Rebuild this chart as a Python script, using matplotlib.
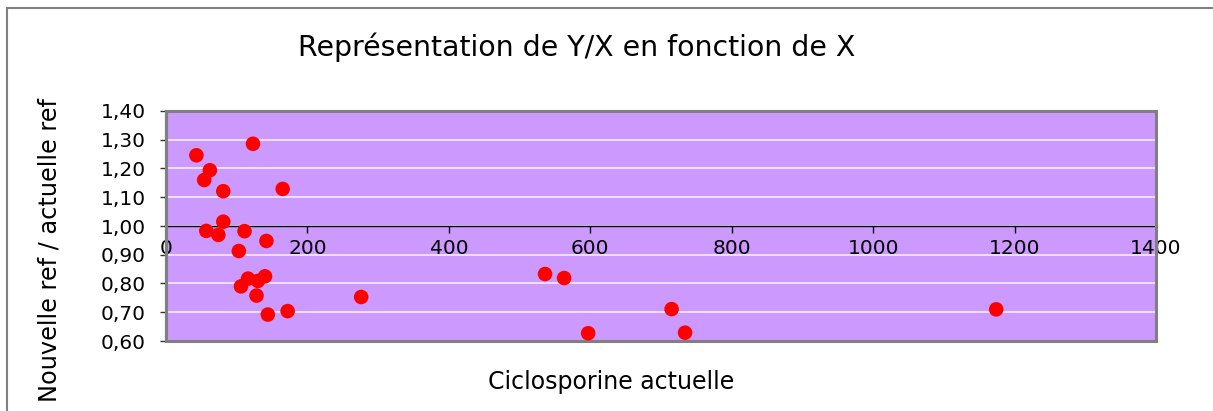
import matplotlib
matplotlib.use("Agg")
import matplotlib.pyplot as plt
from matplotlib.patches import Rectangle
from matplotlib.ticker import FuncFormatter, MultipleLocator

# Data
ciclo_actuelle = [43, 123, 62, 54, 81, 165, 81, 57, 74, 111, 142, 103,
                  116, 106, 130, 140, 128, 144, 172, 276,
                  536, 563, 597, 715, 734, 1174]
ratio = [1.246, 1.286, 1.194, 1.160, 1.121, 1.129, 1.015, 0.983, 0.969, 0.982, 0.948, 0.913,
         0.817, 0.790, 0.809, 0.825, 0.758, 0.692, 0.704, 0.753,
         0.833, 0.819, 0.627, 0.711, 0.629, 0.710]

title = "Représentation de Y/X en fonction de X"
xlabel = "Ciclosporine actuelle"
ylabel = "Nouvelle ref / actuelle ref"

W, H = 1213, 411
fig = plt.figure(figsize=(W / 100, H / 100), dpi=100)
plt.rcParams['font.family'] = ['DejaVu Sans']

# outer chart frame (cropped at right and bottom)
fig.patches.append(Rectangle((7 / W, -0.1), 1.2, (403 / H) + 0.1,
                             transform=fig.transFigure, fill=False,
                             ec='#808080', lw=1.5, zorder=0))

left, right, top, bottom = 166, 1156, 111, 341
ax = fig.add_axes([left / W, 1 - bottom / H, (right - left) / W, (bottom - top) / H])
ax.set_facecolor('#CC99FF')
ax.set_xlim(0, 1400)
ax.set_ylim(0.6, 1.4)

# gridlines
ax.yaxis.set_major_locator(MultipleLocator(0.1))
ax.xaxis.set_major_locator(MultipleLocator(200))
ax.grid(axis='y', color='#F0E6FF', lw=1.3, zorder=1)
ax.set_axisbelow(True)

for s in ['top', 'right']:
    ax.spines[s].set_visible(False)
ax.spines['left'].set_color('#555555')
ax.spines['left'].set_linewidth(1.5)
ax.spines['bottom'].set_position(('data', 1.0))
ax.spines['bottom'].set_color('black')
ax.spines['bottom'].set_linewidth(1.0)
ax.spines['bottom'].set_zorder(2)

ax.add_patch(Rectangle((0, 0), 1, 1, transform=ax.transAxes, fill=False,
                       ec='#808080', lw=2.2, clip_on=False, zorder=3))

ax.scatter(ciclo_actuelle, ratio, s=110, color='#FF0000', edgecolors='none',
           zorder=4, clip_on=False)

ax.yaxis.set_major_formatter(FuncFormatter(lambda v, p: f"{v:.2f}".replace('.', ',')))
ax.xaxis.set_major_formatter(FuncFormatter(lambda v, p: f"{int(round(v))}"))
ax.tick_params(axis='y', direction='out', length=4.5, width=1, color='#333333',
               labelsize=14.5, pad=10)
ax.tick_params(axis='x', direction='out', length=5, width=1, color='black',
               labelsize=14.5, pad=4)

fig.text(577 / W, 1 - 47 / H, title, ha='center', va='center', fontsize=20.4)
fig.text(611 / W, 1 - 382 / H, xlabel, ha='center', va='center', fontsize=17)
fig.text(50 / W, 1 - 250 / H, ylabel, ha='center', va='center', fontsize=17.3,
         rotation=90)

fig.savefig('out.png', dpi=100)
